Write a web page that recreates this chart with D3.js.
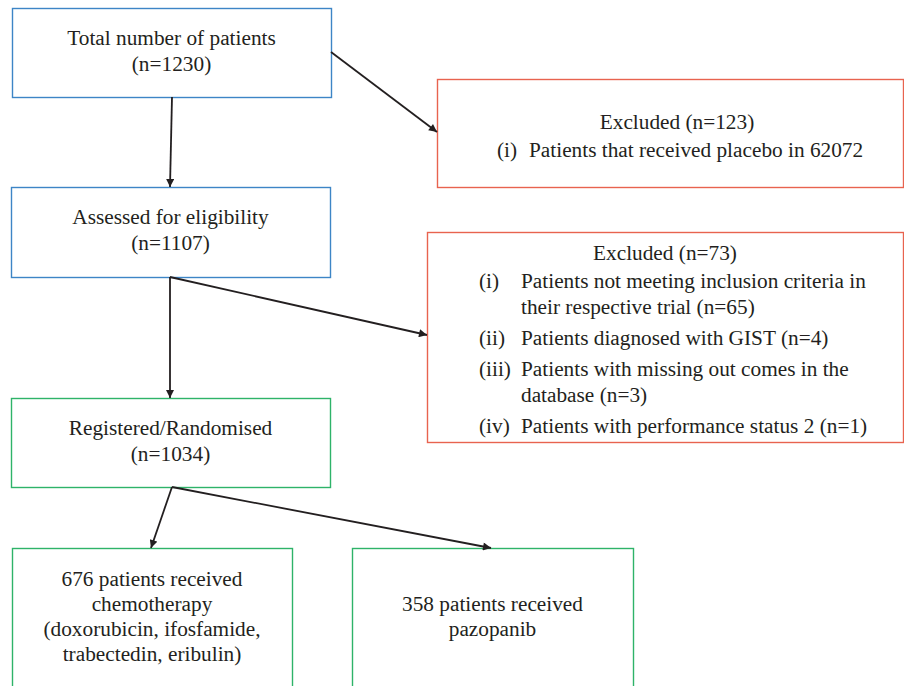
<!DOCTYPE html>
<html>
<head>
<meta charset="utf-8">
<script src="https://cdn.jsdelivr.net/npm/d3@7"></script>
<style>
  body { margin: 0; background: #fff; }
  text { font-family: "Liberation Serif", "DejaVu Serif", serif; fill: #231f20; }
</style>
</head>
<body>
<script>
//Node labels (data)
const nodeIds = ['total', 'excl1', 'assessed', 'excl2', 'registered', 'chemo', 'pazo'];
const nodeLines = {
    total: ['Total number of patients', '(n=1230)'],
    assessed: ['Assessed for eligibility', '(n=1107)'],
    registered: ['Registered/Randomised', '(n=1034)'],
    chemo: ['676 patients received', 'chemotherapy', '(doxorubicin, ifosfamide,', 'trabectedin, eribulin)'],
    pazo: ['358 patients received', 'pazopanib']
};
const excl1Title = 'Excluded (n=123)';
const excl1Items = [['(i)', 'Patients that received placebo in 62072']];
const excl2Title = 'Excluded (n=73)';
const excl2Items = [
    ['(i)', 'Patients not meeting inclusion criteria in', 'their respective trial (n=65)'],
    ['(ii)', 'Patients diagnosed with GIST (n=4)'],
    ['(iii)', 'Patients with missing out comes in the', 'database (n=3)'],
    ['(iv)', 'Patients with performance status 2 (n=1)']
];
const links = [
    ['total', 'assessed'], ['total', 'excl1'],
    ['assessed', 'registered'], ['assessed', 'excl2'],
    ['registered', 'chemo'], ['registered', 'pazo']
];

//Layout (positions and styles)
const width = 904, height = 686;
const blue = '#3d85c6', red = '#e8634f', green = '#2eb369';
const boxes = {
    total:      {x: 12,  y: 8,   w: 319, h: 89,  c: blue},
    excl1:      {x: 437, y: 79,  w: 466, h: 108, c: red},
    assessed:   {x: 11,  y: 187, w: 319, h: 90,  c: blue},
    excl2:      {x: 427, y: 232, w: 476, h: 210, c: red},
    registered: {x: 11,  y: 398, w: 319, h: 89,  c: green},
    chemo:      {x: 12,  y: 548, w: 280, h: 150, c: green},
    pazo:       {x: 352, y: 548, w: 281, h: 150, c: green}
};
//arrow start/end points per link
const anchors = {
    'total-assessed':    [[172, 97],  [170, 187]],
    'total-excl1':       [[331, 52],  [437, 132]],
    'assessed-registered': [[170, 277], [170, 398]],
    'assessed-excl2':    [[170, 277], [427, 335]],
    'registered-chemo':  [[172, 487], [151, 548]],
    'registered-pazo':   [[172, 487], [491, 548]]
};
const fontSize = 21.3;
const lineH = 26;

const svg = d3.select('body').append('svg')
    .attr('width', width)
    .attr('height', height);

svg.append('defs').append('marker')
    .attr('id', 'arrow')
    .attr('viewBox', '0 0 10 10')
    .attr('refX', 10)
    .attr('refY', 5)
    .attr('markerWidth', 9)
    .attr('markerHeight', 8)
    .attr('markerUnits', 'userSpaceOnUse')
    .attr('orient', 'auto')
    .append('path')
    .attr('d', 'M0,0 L10,5 L0,10 z')
    .style('fill', '#231f20');

//Boxes
svg.selectAll('rect.box')
    .data(nodeIds)
    .enter()
    .append('rect')
    .attr('class', 'box')
    .attr('x', d => boxes[d].x + 0.5)
    .attr('y', d => boxes[d].y + 0.5)
    .attr('width', d => boxes[d].w)
    .attr('height', d => boxes[d].h)
    .style('fill', 'none')
    .style('stroke', d => boxes[d].c)
    .style('stroke-width', 1.4);

//Arrows
svg.selectAll('line.link')
    .data(links)
    .enter()
    .append('line')
    .attr('class', 'link')
    .attr('x1', d => anchors[d.join('-')][0][0])
    .attr('y1', d => anchors[d.join('-')][0][1])
    .attr('x2', d => anchors[d.join('-')][1][0])
    .attr('y2', d => anchors[d.join('-')][1][1])
    .style('stroke', '#231f20')
    .style('stroke-width', 1.8)
    .attr('marker-end', 'url(#arrow)');

//Centred text in main boxes
const firstBase = {total: 45, assessed: 224, registered: 435, chemo: 586, pazo: 611};
Object.keys(nodeLines).forEach(id => {
    const b = boxes[id];
    svg.append('g').selectAll('text')
        .data(nodeLines[id])
        .enter()
        .append('text')
        .attr('x', b.x + b.w / 2)
        .attr('y', (d, i) => firstBase[id] + i * (id === 'chemo' || id === 'pazo' ? 25 : lineH))
        .style('text-anchor', 'middle')
        .style('font-size', fontSize + 'px')
        .text(d => d);
});

//Exclusion box 1
svg.append('text')
    .attr('x', 677)
    .attr('y', 129)
    .style('text-anchor', 'middle')
    .style('font-size', fontSize + 'px')
    .text(excl1Title);
excl1Items.forEach(item => {
    svg.append('text').attr('x', 497).attr('y', 157)
        .style('font-size', fontSize + 'px').text(item[0]);
    svg.append('text').attr('x', 529).attr('y', 157)
        .style('font-size', fontSize + 'px').text(item[1]);
});

//Exclusion box 2
svg.append('text')
    .attr('x', 665)
    .attr('y', 260)
    .style('text-anchor', 'middle')
    .style('font-size', fontSize + 'px')
    .text(excl2Title);
let yy = 288;
const itemGaps = [26, 31];
excl2Items.forEach(item => {
    svg.append('text').attr('x', 479).attr('y', yy)
        .style('font-size', fontSize + 'px').text(item[0]);
    item.slice(1).forEach((t, j) => {
        svg.append('text').attr('x', 521).attr('y', yy + j * itemGaps[0])
            .style('font-size', fontSize + 'px').text(t);
    });
    yy += (item.length - 2) * itemGaps[0] + itemGaps[1];
});
</script>
</body>
</html>
